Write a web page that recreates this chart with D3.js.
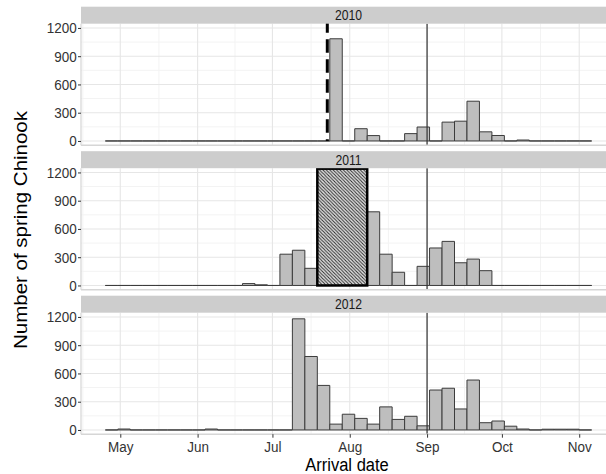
<!DOCTYPE html>
<html>
<head>
<meta charset="utf-8">
<script src="https://cdn.jsdelivr.net/npm/d3@7"></script>
<style>
  body { margin: 0; background: #fff; }
  text { font-family: "Liberation Sans", Arial, sans-serif; }
</style>
</head>
<body>
<div class="chart"></div>
<script>
// facets
const years = ["2010", "2011", "2012"];

// 5-day arrival bins, first bin starts Apr 25
const binStart = new Date(2010, 3, 25);
const binDays = 5;

// fish counted per bin (39 bins, Apr 25 - Nov 6)
const counts2010 = [0,0,0,0,0,0,0,0,0,0,
  0,0,0,0,0,0,0,0,1085,0,
  130,57,0,0,78,148,0,200,210,422,
  97,58,0,10,0,0,0,0,0];
const counts2011 = [0,0,0,0,0,0,0,0,0,0,
  0,20,7,0,332,374,182,0,0,0,
  0,782,332,140,0,203,398,468,241,280,
  157,0,0,0,0,0,0,0,0];
const counts2012 = [0,10,0,0,0,0,0,0,10,0,
  0,0,0,0,0,1180,780,473,62,167,
  123,62,245,112,145,44,424,443,223,530,
  77,95,40,10,0,8,8,8,0];

const yTicks = [0, 300, 600, 900, 1200];
const yMinor = [150, 450, 750, 1050];

// annotations
const splitDate = new Date(2010, 8, 1);          // solid line, every year
const dashedYear = "2010";
const dashedDate = new Date(2010, 6, 23);
const hatchYear = "2011";
const hatchFrom = new Date(2010, 6, 19);
const hatchTo = new Date(2010, 7, 8);
const hatchTop = 1240;

const countsByYear = { "2010": counts2010, "2011": counts2011, "2012": counts2012 };

const W = 606, H = 474;
const left = 81, right = 616;
const panelTop0 = 23.7, step = 144.5, panelH = 121.5, stripH = 17;
const squeeze = "scale(0.87,1)";

const svg = d3.select(".chart").append("svg")
  .attr("width", W)
  .attr("height", H);

const defs = svg.append("defs");
const pat = defs.append("pattern")
  .attr("id", "hatch")
  .attr("patternUnits", "userSpaceOnUse")
  .attr("width", 3.4).attr("height", 3.4);
pat.append("rect").attr("width", 3.4).attr("height", 3.4).attr("fill", "#e2e2e2");
pat.append("path")
  .attr("d", "M-1,-1L4.4,4.4M-1,2.4L1,4.4M2.4,-1L4.4,1")
  .attr("stroke", "#2a2a2a")
  .attr("stroke-width", 1);

// bins
const nBins = counts2010.length;
const binEdges = d3.range(nBins + 1).map(i => d3.timeDay.offset(binStart, i * binDays));
const firstEdge = binEdges[0], lastEdge = binEdges[nBins];
const pad = (lastEdge - firstEdge) * 0.05;

const x = d3.scaleTime()
  .domain([new Date(+firstEdge - pad), new Date(+lastEdge + pad)])
  .range([left, right]);

const months = d3.timeMonth.range(new Date(2010, 4, 1), new Date(2010, 11, 1));
const allMonths = d3.timeMonth.range(new Date(2010, 3, 1), new Date(2010, 11, 2));
const minorX = d3.pairs(allMonths).map(p => new Date((+p[0] + +p[1]) / 2))
  .filter(d => d >= x.domain()[0] && d <= x.domain()[1]);

years.forEach(function (yr, k) {
  const top = panelTop0 + k * step;
  const y = d3.scaleLinear().domain([-45, 1245]).range([top + panelH, top]);
  const g = svg.append("g").attr("class", "panel");

  g.append("rect")
    .attr("x", left).attr("y", top)
    .attr("width", right - left).attr("height", panelH)
    .attr("fill", "#fff");

  // grid
  g.selectAll(".ymin").data(yMinor).enter().append("line")
    .attr("x1", left).attr("x2", right)
    .attr("y1", d => y(d)).attr("y2", d => y(d))
    .attr("stroke", "#f3f3f3").attr("stroke-width", 1);
  g.selectAll(".xmin").data(minorX).enter().append("line")
    .attr("x1", d => x(d)).attr("x2", d => x(d))
    .attr("y1", top).attr("y2", top + panelH)
    .attr("stroke", "#f3f3f3").attr("stroke-width", 1);
  g.selectAll(".ymaj").data(yTicks).enter().append("line")
    .attr("x1", left).attr("x2", right)
    .attr("y1", d => y(d)).attr("y2", d => y(d))
    .attr("stroke", "#e6e6e6").attr("stroke-width", 1.1);
  g.selectAll(".xmaj").data(months).enter().append("line")
    .attr("x1", d => x(d)).attr("x2", d => x(d))
    .attr("y1", top).attr("y2", top + panelH)
    .attr("stroke", "#e6e6e6").attr("stroke-width", 1.1);

  // bars (paths, so empty bins still show their outline on the baseline)
  const bins = countsByYear[yr].map((n, i) => ({ x0: binEdges[i], x1: binEdges[i + 1], n: n }));
  g.selectAll(".bar").data(bins).enter().append("path")
    .attr("class", "bar")
    .attr("d", d => "M" + x(d.x0) + "," + y(0) + "V" + y(d.n) + "H" + x(d.x1) + "V" + y(0) + "Z")
    .attr("fill", "#bebebe")
    .attr("stroke", "#3c3c3c")
    .attr("stroke-width", 1);

  if (yr === hatchYear) {
    g.append("rect")
      .attr("x", x(hatchFrom)).attr("y", y(hatchTop))
      .attr("width", x(hatchTo) - x(hatchFrom))
      .attr("height", y(0) - y(hatchTop))
      .attr("fill", "url(#hatch)")
      .attr("stroke", "#000").attr("stroke-width", 2.5);
  }

  // season split line
  g.append("line")
    .attr("x1", x(splitDate)).attr("x2", x(splitDate))
    .attr("y1", top).attr("y2", top + panelH)
    .attr("stroke", "#333").attr("stroke-width", 1.2);

  if (yr === dashedYear) {
    g.append("line")
      .attr("x1", x(dashedDate)).attr("x2", x(dashedDate))
      .attr("y1", y(1260)).attr("y2", y(0))
      .attr("stroke", "#000").attr("stroke-width", 3)
      .attr("stroke-dasharray", "13.5,6.5")
      .attr("stroke-dashoffset", 3);
  }

  // panel edges
  g.append("line")
    .attr("x1", left).attr("x2", left)
    .attr("y1", top).attr("y2", top + panelH)
    .attr("stroke", "#d6d6d6").attr("stroke-width", 1.2);
  g.append("line")
    .attr("x1", left).attr("x2", right)
    .attr("y1", top + panelH).attr("y2", top + panelH)
    .attr("stroke", "#d6d6d6").attr("stroke-width", 1.5);

  // strip
  g.append("rect")
    .attr("x", left).attr("y", top - stripH)
    .attr("width", right - left).attr("height", stripH)
    .attr("fill", "#cdcdcd");
  g.append("g")
    .attr("transform", "translate(" + (left + right) / 2 + "," + (top - stripH / 2) + ")")
    .append("text")
    .attr("transform", squeeze)
    .attr("text-anchor", "middle")
    .attr("dy", "0.36em")
    .attr("font-size", 14)
    .attr("fill", "#1a1a1a")
    .text(yr);

  // y axis
  const ya = g.append("g")
    .attr("transform", "translate(" + left + ",0)")
    .call(d3.axisLeft(y).tickValues(yTicks).tickFormat(d3.format("d"))
      .tickSize(3).tickPadding(2));
  ya.select(".domain").remove();
  ya.selectAll(".tick line").attr("stroke", "#333");
  ya.selectAll(".tick text")
    .attr("font-size", 15.5)
    .attr("font-family", "Liberation Sans, Arial, sans-serif")
    .attr("fill", "#333")
    .attr("transform", squeeze);

  if (k === years.length - 1) {
    const xa = g.append("g")
      .attr("transform", "translate(0," + (top + panelH) + ")")
      .call(d3.axisBottom(x).tickValues(months).tickFormat(d3.timeFormat("%b"))
        .tickSize(3.5).tickPadding(3));
    xa.select(".domain").remove();
    xa.selectAll(".tick line").attr("stroke", "#333");
    xa.selectAll(".tick text")
      .attr("font-size", 15.5)
      .attr("font-family", "Liberation Sans, Arial, sans-serif")
      .attr("fill", "#333")
      .attr("transform", squeeze);
  }
});

// axis titles
svg.append("g")
  .attr("transform", "translate(347,471)")
  .append("text")
  .attr("transform", squeeze)
  .attr("text-anchor", "middle")
  .attr("font-size", 19)
  .attr("fill", "#000")
  .text("Arrival date");

svg.append("g")
  .attr("transform", "translate(26.5,230)")
  .append("text")
  .attr("transform", squeeze + " rotate(-90)")
  .attr("text-anchor", "middle")
  .attr("font-size", 20.5)
  .attr("fill", "#000")
  .text("Number of spring Chinook");
</script>
</body>
</html>
